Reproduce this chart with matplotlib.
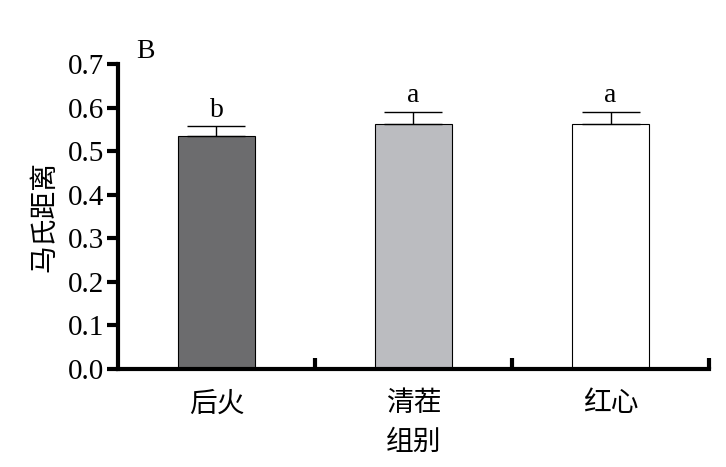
import matplotlib
matplotlib.use('Agg')
import matplotlib.pyplot as plt

groups = ['后火', '清茬', '红心']
values = [0.535, 0.562, 0.562]
errors = [0.022, 0.028, 0.028]
letters = ['b', 'a', 'a']
colors = ['#6c6c6e', '#bbbcc0', '#ffffff']

serif = ['Liberation Serif', 'DejaVu Serif']
cjk = ['Noto Sans CJK SC', 'DejaVu Sans']

fig = plt.figure(figsize=(7.26, 4.67), dpi=100)
ax = fig.add_axes([0.1625, 0.2099, 0.8141, 0.6531])

x = range(len(groups))
ax.bar(x, values, width=0.39, color=colors, edgecolor='black', linewidth=0.8, zorder=2)
ax.errorbar(x, values, yerr=[[0] * 3, errors], fmt='none', ecolor='black',
            elinewidth=1, capsize=21, capthick=1, zorder=3)
for i, (v, e, t) in enumerate(zip(values, errors, letters)):
    ax.text(i, v + e + 0.008, t, ha='center', va='bottom', fontsize=20, family=serif)

ax.set_xlim(-0.5, 2.5)
ax.set_ylim(0, 0.7)
ax.set_yticks([i / 10 for i in range(8)])
ax.set_yticklabels([f'{i / 10:.1f}' for i in range(8)], fontsize=21, family=serif)
ax.set_xticks([0.5, 1.5, 2.5])
ax.set_xticklabels([])
ax.set_xticks([0, 1, 2], minor=True)
ax.set_xticklabels(groups, minor=True, fontsize=20, family=cjk)
ax.tick_params(axis='x', which='minor', length=0, pad=14)
ax.tick_params(axis='x', which='major', direction='in', length=8, width=3)
ax.tick_params(axis='y', direction='out', length=8, width=3, pad=2)

for s in ['top', 'right']:
    ax.spines[s].set_visible(False)
for s in ['left', 'bottom']:
    ax.spines[s].set_linewidth(3)

ax.set_ylabel('马氏距离', fontsize=20, family=cjk, labelpad=6)
ax.set_xlabel('组别', fontsize=20, family=cjk, labelpad=6)
ax.text(0.03, 1.0, 'B', transform=ax.transAxes, fontsize=20, family=serif, va='bottom')

fig.savefig('out.png', dpi=100)
